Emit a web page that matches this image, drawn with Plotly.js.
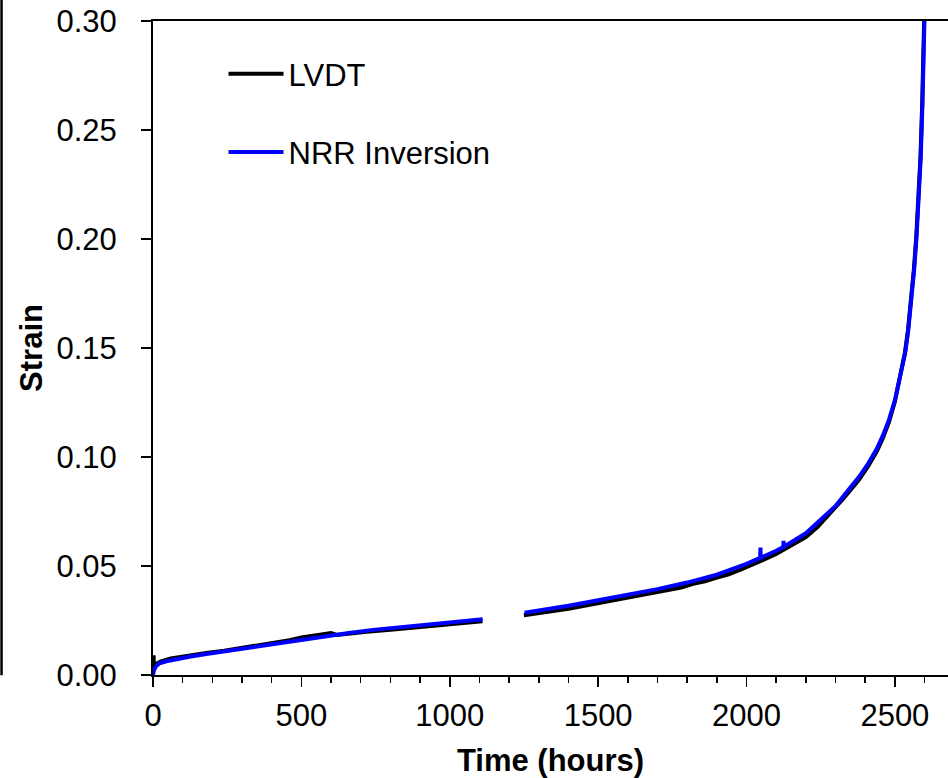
<!DOCTYPE html>
<html>
<head>
<meta charset="utf-8">
<script src="https://cdn.plot.ly/plotly-3.0.1.min.js"></script>
<style>html,body{margin:0;padding:0;background:#fff;}#chart{width:948px;height:778px;}</style>
</head>
<body>
<div id="chart"></div>
<script>
// LVDT measurements (time in hours, strain)
var lvdtTime = [0, 1, 2, 3, 10, 25, 60, 120, 180, 240, 320, 400, 460, 500, 540, 580, 600, 620, 660, 720, 800, 880, 960, 1040, 1110,
  null,
  1250, 1280, 1320, 1360, 1400, 1450, 1500, 1540, 1580, 1620, 1660, 1700, 1740, 1780, 1820, 1860, 1900, 1940, 1980, 2020, 2060, 2100, 2140, 2180,
  2200, 2240, 2280, 2320, 2350, 2380, 2410, 2440, 2460, 2480, 2500, 2520, 2534, 2544, 2554, 2564, 2572, 2579, 2586, 2592, 2596, 2599, 2602];
var lvdtStrain = [0, 0.0085, 0.009, 0.0035, 0.0050, 0.0062, 0.0076, 0.0090, 0.0101, 0.0111, 0.0128, 0.0145, 0.0160, 0.0172, 0.0180, 0.0187, 0.0192, 0.0184, 0.0188, 0.0198, 0.0208, 0.0218, 0.0228, 0.0238, 0.0247,
  null,
  0.0274, 0.0279, 0.0285, 0.0296, 0.0304, 0.0317, 0.0330, 0.0337, 0.0352, 0.0360, 0.0371, 0.0381, 0.0392, 0.0401, 0.0418, 0.0430, 0.0447, 0.0462, 0.0483, 0.0505, 0.0530, 0.0555, 0.0585, 0.0614,
  0.0632, 0.0680, 0.0738, 0.0800, 0.0848, 0.0898, 0.0958, 0.1028, 0.1088, 0.1160, 0.1255, 0.1380, 0.1480, 0.1580, 0.1700, 0.1860, 0.2010, 0.2170, 0.2370, 0.2620, 0.2820, 0.3000, 0.3200];

// NRR inversion result
var nrrTime = [0, 3, 10, 22, 45, 67, 123, 180, 235, 320, 404, 490, 572, 660, 741, 820, 909, 1000, 1111,
  null,
  1252, 1300, 1400, 1500, 1600, 1700, 1800, 1900, 2000, 2046, 2047, 2048, 2100, 2124, 2125, 2126, 2200, 2250, 2300, 2350, 2380, 2410, 2440, 2460, 2480, 2500, 2520, 2535, 2545, 2555, 2565, 2573, 2580, 2587, 2593, 2597, 2600, 2603];
var nrrStrain = [0, 0.0022, 0.0040, 0.0054, 0.0063, 0.0070, 0.0084, 0.0096, 0.0107, 0.0126, 0.0145, 0.0162, 0.0178, 0.0193, 0.0207, 0.0217, 0.0228, 0.0240, 0.0256,
  null,
  0.0286, 0.0295, 0.0318, 0.0343, 0.0368, 0.0394, 0.0424, 0.0460, 0.0510, 0.0537, 0.0585, 0.0538, 0.0570, 0.0587, 0.0615, 0.0589, 0.0650, 0.0710, 0.0775, 0.0860, 0.0910, 0.0970, 0.1040, 0.1100, 0.1170, 0.1260, 0.1380, 0.1480, 0.1580, 0.1700, 0.1860, 0.2010, 0.2170, 0.2370, 0.2620, 0.2820, 0.3000, 0.3200];

var seriesNames = ['LVDT', 'NRR Inversion'];
var xTickVals = [0, 500, 1000, 1500, 2000, 2500];
var yTickVals = [0, 0.05, 0.10, 0.15, 0.20, 0.25, 0.30];
var yTickText = ['0.00', '0.05', '0.10', '0.15', '0.20', '0.25', '0.30'];

var FONT = 'Liberation Sans, Arial, sans-serif';

var traces = [
  {x: lvdtTime, y: lvdtStrain, name: seriesNames[0], mode: 'lines', legendgroup: 'a',
   line: {color: '#000000', width: 4}, connectgaps: false},
  {x: nrrTime, y: nrrStrain, name: seriesNames[1], mode: 'lines', legendgroup: 'b',
   line: {color: '#0000ff', width: 4}, connectgaps: false}
];

var layout = {
  width: 948, height: 778,
  margin: {l: 153, r: 0, t: 21, b: 103, pad: 0},
  paper_bgcolor: '#ffffff', plot_bgcolor: '#ffffff',
  font: {family: FONT, color: '#000000', size: 31},
  showlegend: true,
  legend: {x: 0.0887, y: 0.960, xanchor: 'left', yanchor: 'top', bgcolor: 'rgba(0,0,0,0)',
           borderwidth: 0, itemwidth: 55, tracegroupgap: 35, traceorder: 'grouped',
           font: {family: FONT, size: 31, color: '#000000'}},
  xaxis: {
    range: [0, 2679], showgrid: false, zeroline: false,
    showline: true, linecolor: '#000000', linewidth: 2, mirror: true,
    ticks: 'outside', ticklen: 10, tickwidth: 1.5, tickcolor: '#000000',
    tickvals: xTickVals, ticklabelstandoff: 2,
    minor: {dtick: 100, ticks: 'outside', ticklen: 6, tickwidth: 1.5, tickcolor: '#000000', showgrid: false},
    tickfont: {family: FONT, size: 31, color: '#000000'},
    title: {text: '<b>Time (hours)</b>', font: {family: FONT, size: 31, color: '#000000'}, standoff: 20}
  },
  yaxis: {
    range: [0, 0.30], showgrid: false, zeroline: false,
    showline: true, linecolor: '#000000', linewidth: 2,
    ticks: 'outside', ticklen: 10, tickwidth: 1.5, tickcolor: '#000000',
    tickvals: yTickVals, ticktext: yTickText, ticklabelstandoff: 18,
    tickfont: {family: FONT, size: 31, color: '#000000'},
    title: {text: '<b>Strain</b>', font: {family: FONT, size: 31, color: '#000000'}, standoff: 5}
  },
  shapes: [
    {type: 'line', xref: 'paper', yref: 'paper', x0: -0.1905, x1: -0.1905, y0: -0.0002, y1: 1.032,
     line: {color: '#000000', width: 2.5}}
  ]
};

Plotly.newPlot('chart', traces, layout, {staticPlot: true, displayModeBar: false});
</script>
</body>
</html>
